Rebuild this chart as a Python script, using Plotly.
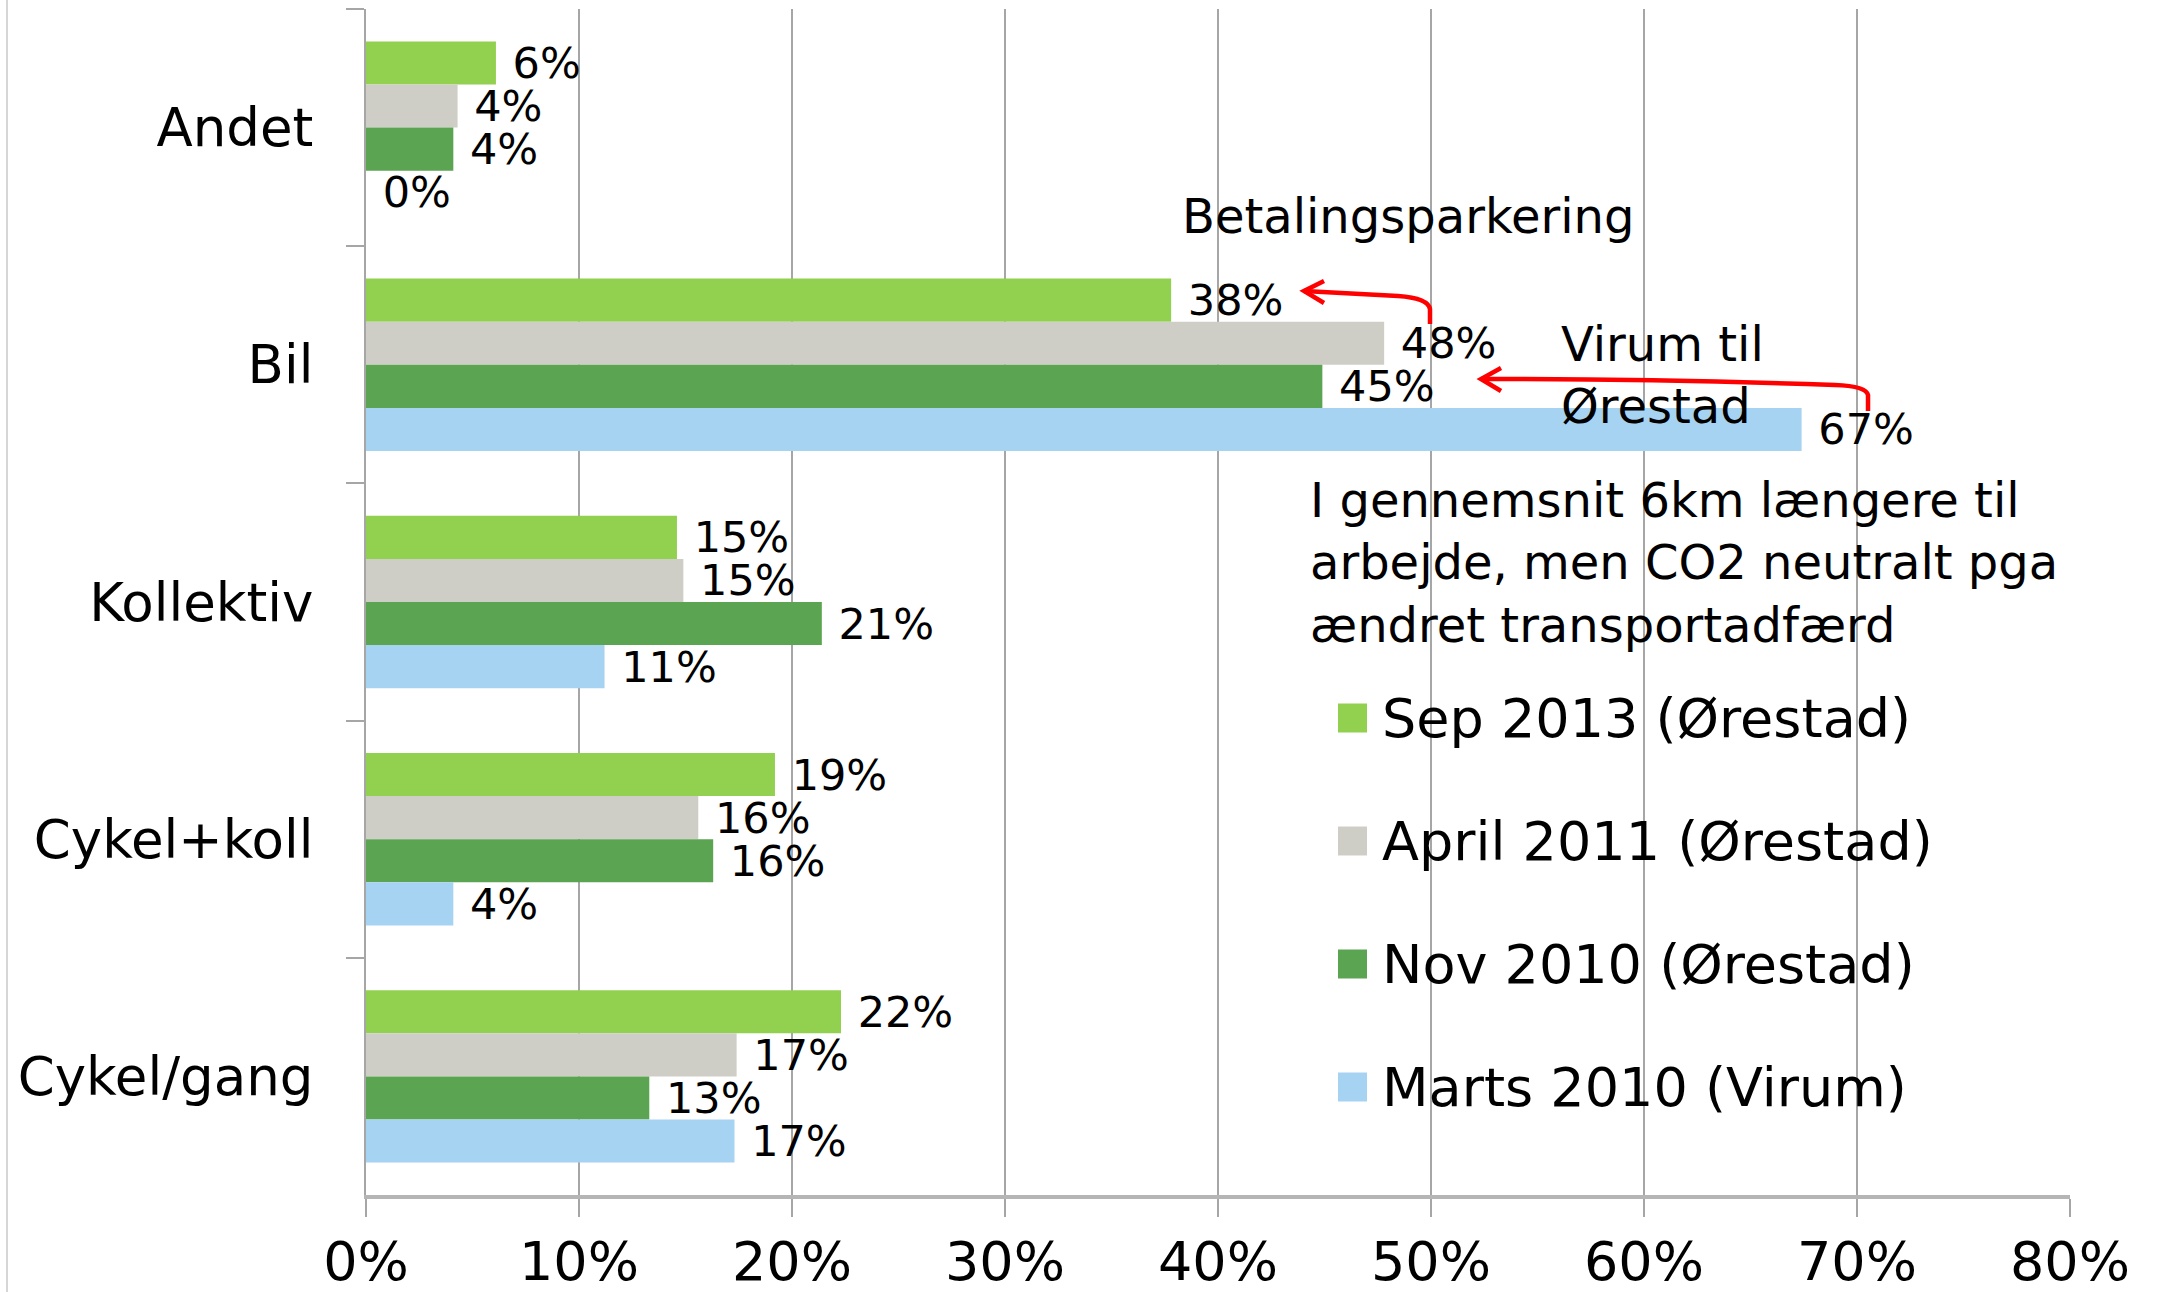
import plotly.graph_objects as go

# ---- data ----
categories = ["Andet", "Bil", "Kollektiv", "Cykel+koll", "Cykel/gang"]
series_names = ["Sep 2013 (Ørestad)", "April 2011 (Ørestad)", "Nov 2010 (Ørestad)", "Marts 2010 (Virum)"]
sep_2013 = [6.1, 37.8, 14.6, 19.2, 22.3]
april_2011 = [4.3, 47.8, 14.9, 15.6, 17.4]
nov_2010 = [4.1, 44.9, 21.4, 16.3, 13.3]
marts_2010 = [0.0, 67.4, 11.2, 4.1, 17.3]
series_values = [sep_2013, april_2011, nov_2010, marts_2010]
colors = ["#92D050", "#CFCEC6", "#5BA552", "#A7D3F3"]
x_ticks = [0, 10, 20, 30, 40, 50, 60, 70, 80]
x_tick_labels = [f"{t}%" for t in x_ticks]

FONT = "DejaVu Sans"
W, H = 2160, 1292
L, R, T, B = 366, 2070, 9, 1195


def px_x(x):
    return (x - L) / (R - L)


def px_y(y):
    return (B - y) / (B - T)


fig = go.Figure()
for name, vals, col in zip(series_names, series_values, colors):
    fig.add_trace(go.Bar(
        y=categories, x=vals, name=name, orientation="h",
        marker=dict(color=col, line=dict(width=0)),
        text=[f"\u00a0{round(v)}%" for v in vals],
        textposition="outside", constraintext="none", cliponaxis=False,
        textfont=dict(family=FONT, size=43, color="#000000"),
        showlegend=False,
    ))

shapes = []
annotations = []

# manual legend
leg_y = [718, 841, 964, 1087]
for name, col, yc in zip(series_names, colors, leg_y):
    shapes.append(dict(type="rect", xref="paper", yref="paper",
                       x0=px_x(1338), x1=px_x(1367), y0=px_y(yc + 14.5), y1=px_y(yc - 14.5),
                       fillcolor=col, line=dict(width=0)))
    annotations.append(dict(xref="paper", yref="paper", x=px_x(1380), y=px_y(yc),
                            xanchor="left", yanchor="middle", text=name, showarrow=False,
                            font=dict(family=FONT, size=54, color="#000000")))

# text annotations
annotations.append(dict(xref="paper", yref="paper", x=px_x(1180), y=px_y(216),
                        xanchor="left", yanchor="middle", text="Betalingsparkering",
                        showarrow=False, font=dict(family=FONT, size=48, color="#000000")))
annotations.append(dict(xref="paper", yref="paper", x=px_x(1559), y=px_y(375),
                        xanchor="left", yanchor="middle", text="Virum til<br>Ørestad", align="left",
                        showarrow=False, font=dict(family=FONT, size=48, color="#000000")))
annotations.append(dict(xref="paper", yref="paper", x=px_x(1308), y=px_y(562),
                        xanchor="left", yanchor="middle", align="left",
                        text="I gennemsnit 6km længere til<br>arbejde, men CO2 neutralt pga<br>ændret transportadfærd",
                        showarrow=False, font=dict(family=FONT, size=48, color="#000000")))


def path(points, cmd):
    out = []
    for c, pts in zip(cmd, points):
        out.append(c + " " + " ".join(f"{px_x(x):.5f},{px_y(y):.5f}" for x, y in pts))
    return " ".join(out)


red = "#FF0000"
# arrow 1 (48% -> 38%)
shapes.append(dict(type="path", xref="paper", yref="paper",
                   path=path([[(1430, 324)], [(1430, 309)], [(1428, 298), (1398, 296)], [(1304, 291)]],
                             ["M", "L", "Q", "L"]),
                   line=dict(color=red, width=4.5)))
shapes.append(dict(type="path", xref="paper", yref="paper",
                   path=path([[(1324, 281)], [(1304, 291)], [(1324, 303)]], ["M", "L", "L"]),
                   line=dict(color=red, width=4.5)))
# arrow 2 (67% -> 45%)
shapes.append(dict(type="path", xref="paper", yref="paper",
                   path=path([[(1868, 411)], [(1868, 395)], [(1866, 386), (1835, 385)], [(1660, 379), (1481, 379)]],
                             ["M", "L", "Q", "Q"]),
                   line=dict(color=red, width=4.5)))
shapes.append(dict(type="path", xref="paper", yref="paper",
                   path=path([[(1501, 368)], [(1481, 379)], [(1501, 391)]], ["M", "L", "L"]),
                   line=dict(color=red, width=4.5)))

# left slide border
shapes.append(dict(type="line", xref="paper", yref="paper",
                   x0=px_x(7), x1=px_x(7), y0=px_y(0), y1=px_y(1292),
                   line=dict(color="#D6D6D6", width=2)))

fig.update_layout(
    width=W, height=H,
    margin=dict(l=L, r=W - R, t=T, b=H - B, autoexpand=False),
    paper_bgcolor="white", plot_bgcolor="white",
    barmode="group", bargap=0.273, bargroupgap=0,
    font=dict(family=FONT, color="#000000"),
    shapes=shapes, annotations=annotations,
    xaxis=dict(range=[0, 80], tickvals=x_ticks, ticktext=x_tick_labels,
               showgrid=True, gridcolor="#A6A6A6", gridwidth=2, zeroline=False,
               showline=True, linecolor="#B5B5B5", linewidth=4,
               ticks="outside", ticklen=18, tickcolor="#A6A6A6", tickwidth=2,
               tickfont=dict(family=FONT, size=54, color="#000000"),
               ticklabelstandoff=-2, fixedrange=True),
    yaxis=dict(categoryorder="array", categoryarray=categories, autorange="reversed",
               showgrid=False, zeroline=False,
               showline=True, linecolor="#A6A6A6", linewidth=2,
               ticks="outside", tickson="boundaries", ticklen=18, tickcolor="#A6A6A6", tickwidth=2,
               tickfont=dict(family=FONT, size=53, color="#000000"),
               ticklabelstandoff=40, fixedrange=True),
)

fig.write_html(
    "out.html",
    config={"displayModeBar": False},
    post_script="document.body.style.margin='0';document.body.style.overflow='hidden';",
)
